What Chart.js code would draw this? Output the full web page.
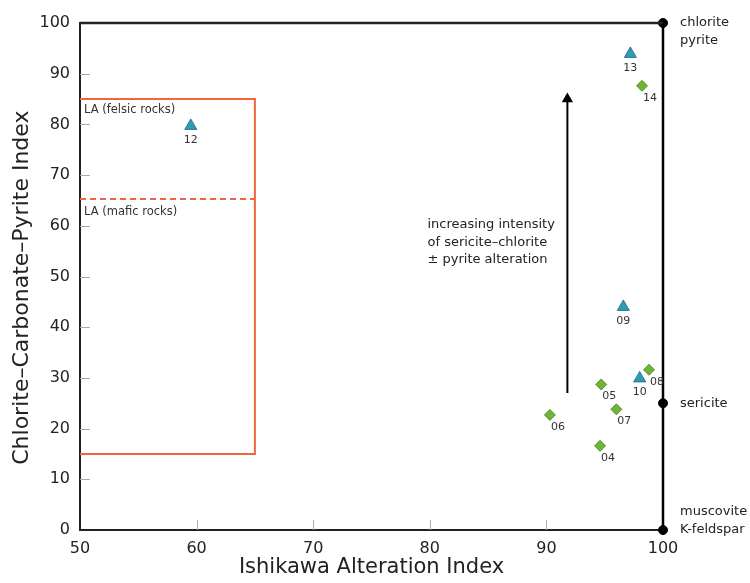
<!DOCTYPE html>
<html>
<head>
<meta charset="utf-8">
<script src="https://cdn.jsdelivr.net/npm/chart.js@4.4.0/dist/chart.umd.min.js"></script>
<style>
    html, body { margin: 0; padding: 0; background: #fff; }
    #wrap { width: 750px; height: 583px; }
</style>
</head>
<body>
<div id="wrap"><canvas id="chart" width="750" height="583"></canvas></div>
<script>
// Samples plotted as teal triangles
const triangleIds = ['09', '10', '12', '13'];
const triangleAI = [96.6, 98.0, 59.5, 97.2];
const triangleCCPI = [44.0, 29.9, 79.7, 93.9];

// Samples plotted as green diamonds
const diamondIds = ['04', '05', '06', '07', '08', '14'];
const diamondAI = [94.6, 94.7, 90.3, 96.0, 98.8, 98.2];
const diamondCCPI = [16.6, 28.7, 22.7, 23.8, 31.6, 87.6];

// Least altered box (AI 50-65, CCPI 15-85) and the mafic/felsic split
const boxAI = [50, 65, 65, 50];
const boxCCPI = [15, 15, 85, 85];
const splitAI = [50, 65];
const splitCCPI = [65.3, 65.3];

// Alteration arrow
const arrowAI = [91.8, 91.8];
const arrowCCPI = [27, 85];

// End members on the right edge
const endMemberAI = [100, 100, 100];
const endMemberCCPI = [0, 25, 100];
const endMemberNames = [['muscovite', 'K-feldspar'], ['sericite'], ['chlorite', 'pyrite']];

const topLineAI = [50, 100];
const topLineCCPI = [100, 100];

const xTicks = [50, 60, 70, 80, 90, 100];
const yTicks = [0, 10, 20, 30, 40, 50, 60, 70, 80, 90, 100];

const yTitle = 'Chlorite\u2013Carbonate\u2013Pyrite Index';
const arrowNote = ['increasing intensity', 'of sericite\u2013chlorite', '\u00b1 pyrite alteration'];
const boxLabels = ['LA (felsic rocks)', 'LA (mafic rocks)'];

const FONT = '"DejaVu Sans", sans-serif';
const RED = 'rgb(242, 102, 62)';

const toPoints = (xs, ys) => xs.map((x, i) => ({ x: x, y: ys[i] }));

// Draws inward ticks, y title, sample labels and text annotations
const annotations = {
    id: 'annotations',
    beforeDatasetsDraw(chart) {
        const ctx = chart.ctx;
        const xs = chart.scales.x;
        const ys = chart.scales.y;
        const area = chart.chartArea;
        ctx.save();
        ctx.strokeStyle = '#aaa';
        ctx.lineWidth = 1;
        xTicks.slice(1, -1).forEach(v => {
            const px = Math.round(xs.getPixelForValue(v)) + 0.5;
            ctx.beginPath();
            ctx.moveTo(px, area.bottom);
            ctx.lineTo(px, area.bottom - 10);
            ctx.stroke();
        });
        yTicks.slice(1, -1).forEach(v => {
            const py = Math.round(ys.getPixelForValue(v)) + 0.5;
            ctx.beginPath();
            ctx.moveTo(area.left, py);
            ctx.lineTo(area.left + 10, py);
            ctx.stroke();
        });

        // y axis title, a little below the middle as in the original
        ctx.translate(22, ys.getPixelForValue(47.8));
        ctx.rotate(-Math.PI / 2);
        ctx.fillStyle = '#222';
        ctx.font = '22px ' + FONT;
        ctx.textAlign = 'center';
        ctx.textBaseline = 'middle';
        ctx.fillText(yTitle, 0, 0);
        ctx.restore();
    },
    afterDatasetsDraw(chart) {
        const ctx = chart.ctx;
        const xs = chart.scales.x;
        const ys = chart.scales.y;
        ctx.save();

        // sample numbers
        ctx.fillStyle = '#333';
        ctx.font = '11px ' + FONT;
        ctx.textAlign = 'center';
        ctx.textBaseline = 'middle';
        triangleIds.forEach((id, i) => {
            ctx.fillText(id, xs.getPixelForValue(triangleAI[i]), ys.getPixelForValue(triangleCCPI[i]) + 14);
        });
        diamondIds.forEach((id, i) => {
            ctx.fillText(id, xs.getPixelForValue(diamondAI[i]) + 8, ys.getPixelForValue(diamondCCPI[i]) + 12);
        });

        // box labels
        ctx.textAlign = 'left';
        ctx.font = '11.5px ' + FONT;
        ctx.fillText(boxLabels[0], xs.getPixelForValue(50) + 4, ys.getPixelForValue(boxCCPI[2]) + 11);
        ctx.fillText(boxLabels[1], xs.getPixelForValue(50) + 4, ys.getPixelForValue(splitCCPI[0]) + 13);

        // arrow note
        ctx.font = '13px ' + FONT;
        ctx.fillStyle = '#222';
        const nx = xs.getPixelForValue(79.8);
        const ny = ys.getPixelForValue(60.2);
        arrowNote.forEach((line, i) => ctx.fillText(line, nx, ny + i * 17.5));

        // end member names
        endMemberNames.forEach((lines, i) => {
            const px = xs.getPixelForValue(endMemberAI[i]) + 17;
            const py = ys.getPixelForValue(endMemberCCPI[i]);
            let start = py - (lines.length - 1) * 9;
            if (endMemberCCPI[i] === 100) start = py;
            if (endMemberCCPI[i] === 0) start = py - (lines.length - 1) * 18;
            lines.forEach((line, j) => ctx.fillText(line, px, start + j * 18));
        });
        ctx.restore();
    }
};

new Chart(document.getElementById('chart'), {
    type: 'scatter',
    data: {
        datasets: [
            {
                label: 'box',
                type: 'line',
                data: toPoints(boxAI, boxCCPI),
                borderColor: RED,
                borderWidth: 2,
                pointRadius: 0,
                fill: false
            },
            {
                label: 'split',
                type: 'line',
                data: toPoints(splitAI, splitCCPI),
                borderColor: RED,
                borderWidth: 2,
                borderDash: [6, 4],
                pointRadius: 0
            },
            {
                label: 'arrow',
                type: 'line',
                data: toPoints(arrowAI, arrowCCPI),
                borderColor: '#000',
                borderWidth: 2,
                pointRadius: [0, 6.5],
                pointStyle: 'triangle',
                pointBackgroundColor: '#000',
                pointBorderColor: '#000',
                pointBorderWidth: 0
            },
            {
                label: 'top',
                type: 'line',
                data: toPoints(topLineAI, topLineCCPI),
                borderColor: '#222',
                borderWidth: 2.5,
                pointRadius: 0,
                clip: false
            },
            {
                label: 'end members',
                type: 'line',
                data: toPoints(endMemberAI, endMemberCCPI),
                borderColor: '#000',
                borderWidth: 2.5,
                pointRadius: 4.5,
                pointBorderWidth: 1,
                pointBackgroundColor: '#000',
                pointBorderColor: '#000',
                clip: false
            },
            {
                label: 'triangles',
                data: toPoints(triangleAI, triangleCCPI),
                pointStyle: 'triangle',
                pointRadius: 7,
                pointBackgroundColor: 'rgb(45, 156, 184)',
                pointBorderColor: 'rgb(30, 100, 120)',
                pointBorderWidth: 0.8
            },
            {
                label: 'diamonds',
                data: toPoints(diamondAI, diamondCCPI),
                pointStyle: 'rectRot',
                pointRadius: 5.5,
                pointBackgroundColor: 'rgb(110, 182, 50)',
                pointBorderColor: 'rgb(70, 120, 30)',
                pointBorderWidth: 0.8
            }
        ]
    },
    options: {
        responsive: false,
        animation: false,
        layout: { padding: { top: 23, right: 87, left: 0, bottom: 0 } },
        plugins: {
            legend: { display: false },
            tooltip: { enabled: false }
        },
        scales: {
            x: {
                type: 'linear',
                min: xTicks[0],
                max: xTicks[xTicks.length - 1],
                afterFit(scale) { scale.height = 53; },
                afterBuildTicks(scale) { scale.ticks = xTicks.map(v => ({ value: v })); },
                grid: { display: false, drawTicks: false },
                border: { display: true, color: '#222', width: 2 },
                ticks: { color: '#222', padding: 9, font: { family: FONT, size: 16 } },
                title: {
                    display: true,
                    text: 'Ishikawa Alteration Index',
                    color: '#222',
                    font: { family: FONT, size: 21 },
                    padding: { top: 0, bottom: 3 }
                }
            },
            y: {
                type: 'linear',
                min: yTicks[0],
                max: yTicks[yTicks.length - 1],
                afterFit(scale) { scale.width = 80; },
                afterBuildTicks(scale) { scale.ticks = yTicks.map(v => ({ value: v })); },
                grid: { display: false, drawTicks: false },
                border: { display: true, color: '#222', width: 2 },
                ticks: { color: '#222', padding: 10, font: { family: FONT, size: 16 } },
                title: { display: false }
            }
        }
    },
    plugins: [annotations]
});
</script>
</body>
</html>
